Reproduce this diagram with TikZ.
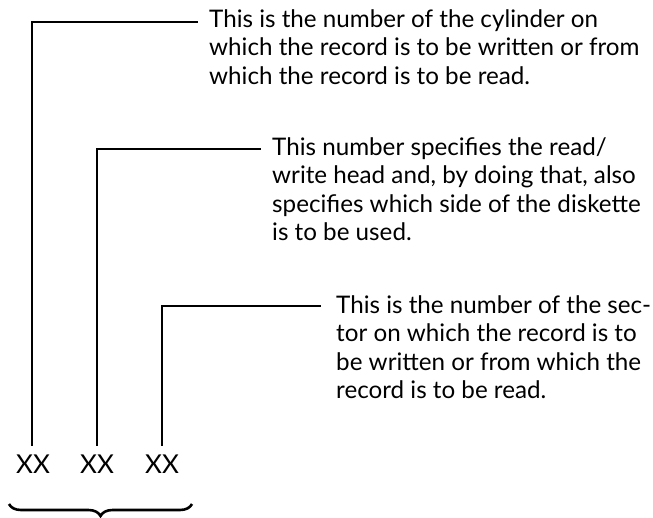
\documentclass[tikz,border=0pt]{standalone}
\usepackage{fontspec}
\setmainfont{Lato}
\usetikzlibrary{decorations.pathreplacing}
\newcommand{\lines}[1]{\vtop{#1}}
\begin{document}
\begin{tikzpicture}[x=1pt,y=-1pt,
  lead/.style={line width=1.3pt, line cap=rect},
  desc/.style={anchor=base west, inner sep=0pt,
    font=\fontsize{24.2}{28.5}\selectfont},
  field/.style={anchor=base, inner sep=0pt, font=\fontsize{26}{28}\selectfont},
  bracestyle/.style={line width=2.6pt, decorate,
    decoration={brace, amplitude=12pt, mirror}}]
\useasboundingbox (0,0) rectangle (653,517);
% texts
\node[desc] (t1) at (209,27) {\lines{\hbox{This is the number of the cylinder on}\hbox{which the record is to be written or from}\hbox{which the record is to be read.}}};
\node[desc] (t2) at (272,155) {\lines{\hbox{This number specifies the read/}\hbox{write head and, by doing that, also}\hbox{specifies which side of the diskette}\hbox{is to be used.}}};
\node[desc] (t3) at (336,313) {\lines{\hbox{This is the number of the sec-}\hbox{tor on which the record is to}\hbox{be written or from which the}\hbox{record is to be read.}}};
% fields
\node[field] (x1) at (33,473) {XX};
\node[field] (x2) at (97,473) {XX};
\node[field] (x3) at (162,473) {XX};
% corners and line ends
\coordinate (c1) at (32,22);
\coordinate (e1) at (197,22);
\coordinate (c2) at (97,149);
\coordinate (e2) at (260,149);
\coordinate (c3) at (162,306);
\coordinate (e3) at (320,306);
\coordinate (b1) at (32,445);
\coordinate (b2) at (97,445);
\coordinate (b3) at (162,445);
\draw[lead] (b1) -- (c1) -- (e1);
\draw[lead] (b2) -- (c2) -- (e2);
\draw[lead] (b3) -- (c3) -- (e3);
% brace
\coordinate (l) at (9,504);
\coordinate (r) at (192,504);
\draw[bracestyle] (l) -- (r);
\end{tikzpicture}
\end{document}
